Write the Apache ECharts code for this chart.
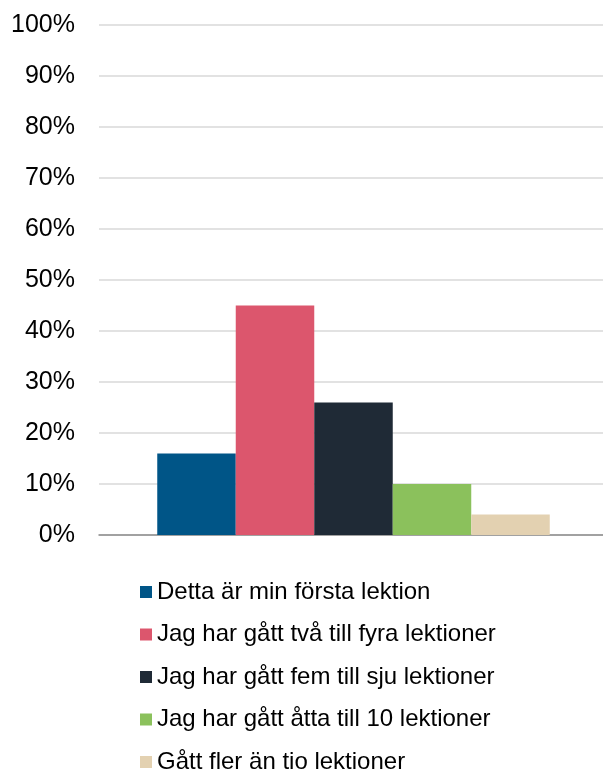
<!DOCTYPE html>
<html>
<head>
<meta charset="utf-8">
<script src="https://cdn.jsdelivr.net/npm/echarts@6/dist/echarts.min.js"></script>
<style>
  html, body { margin: 0; padding: 0; background: #fff; }
  #main { width: 603px; height: 774px; }
</style>
</head>
<body>
<div id="main"></div>
<script>
// svarsalternativ och andel (%)
var seriesNames = [
  'Detta är min första lektion',
  'Jag har gått två till fyra lektioner',
  'Jag har gått fem till sju lektioner',
  'Jag har gått åtta till 10 lektioner',
  'Gått fler än tio lektioner'
];
var values = [16, 45, 26, 10, 4];
var colors = ['#005587', '#DC566D', '#1F2A36', '#8BC15C', '#E3D1B1'];
var categories = [''];

var chart = echarts.init(document.getElementById('main'));

var series = seriesNames.map(function (name, i) {
  return {
    name: name,
    type: 'bar',
    xAxisIndex: 1,
    yAxisIndex: 1,
    data: [values[i]],
    barGap: '0%',
    barWidth: 78.5,
    itemStyle: { color: colors[i] }
  };
});

chart.setOption({
  animation: false,
  color: colors,
  grid: [
    { left: 99, right: 0, top: 25, height: 510 },
    { left: 104, right: 0, top: 25, height: 510 }   // bars sit a touch right of centre
  ],
  xAxis: [{
    type: 'category',
    gridIndex: 0,
    data: categories,
    axisTick: { show: false },
    axisLabel: { show: false },
    axisLine: { lineStyle: { color: '#8c8c8c', width: 1.5 } }
  }, {
    type: 'category',
    gridIndex: 1,
    data: categories,
    show: false
  }],
  yAxis: [{
    type: 'value',
    gridIndex: 0,
    min: 0,
    max: 100,
    interval: 10,
    axisLine: { show: false },
    axisTick: { show: false },
    splitLine: { lineStyle: { color: '#d9d9d9', width: 1.5 } },
    axisLabel: {
      formatter: '{value}%',
      color: '#000',
      fontSize: 25,
      fontFamily: 'Liberation Sans',
      margin: 24
    }
  }, {
    type: 'value',
    gridIndex: 1,
    min: 0,
    max: 100,
    show: false
  }],
  legend: {
    orient: 'vertical',
    left: 140,
    top: 580,
    height: 400,
    padding: 0,
    itemWidth: 12,
    itemHeight: 12,
    itemGap: 18.5,
    icon: 'rect',
    textStyle: {
      color: '#000',
      fontSize: 24,
      fontFamily: 'Liberation Sans'
    },
    data: seriesNames
  },
  series: series
});
</script>
</body>
</html>
